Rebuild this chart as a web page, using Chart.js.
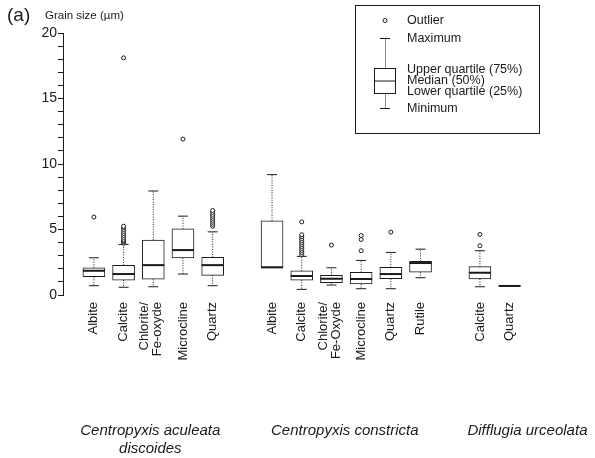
<!DOCTYPE html>
<html>
<head>
<meta charset="utf-8">
<script src="https://cdn.jsdelivr.net/npm/chart.js@4.4.1/dist/chart.umd.min.js"></script>
<style>
  html, body { margin: 0; padding: 0; background: #fff; }
  #wrap { width: 595px; height: 458px; }
</style>
</head>
<body>
<div id="wrap"><canvas id="grainChart" width="595" height="458"></canvas></div>
<script>
// slots along the x axis, '' = gap between two species
const minerals = ['Albite', 'Calcite', 'Chlorite/\nFe-oxyde', 'Microcline', 'Quartz', '',
  'Albite', 'Calcite', 'Chlorite/\nFe-Oxyde', 'Microcline', 'Quartz', 'Rutile', '',
  'Calcite', 'Quartz'];
const species = [['Centropyxis aculeata', 'discoides'], ['Centropyxis constricta'], ['Difflugia urceolata']];
const speciesAt = [1.9, 8.45, 14.6];   // label centre, in slot units

// box statistics per slot, grain size in µm
const mins    = [0.71, 0.59, 0.63, 1.60, 0.71, null, 2.11, 0.43, 0.76, 0.48, 0.48, 1.32, null, 0.63, 0.69];
const q1s     = [1.39, 1.14, 1.20, 2.84, 1.50, null, 2.11, 1.14, 0.94, 0.84, 1.24, 1.75, null, 1.22, 0.69];
const medians = [1.85, 1.60, 2.28, 3.43, 2.28, null, 2.11, 1.45, 1.24, 1.22, 1.60, 2.44, null, 1.70, 0.69];
const q3s     = [2.08, 2.26, 4.19, 5.05, 2.87, null, 5.66, 1.85, 1.50, 1.73, 2.11, 2.57, null, 2.16, 0.69];
const maxs    = [2.84, 3.86, 7.94, 6.02, 4.82, null, 9.19, 2.95, 2.08, 2.64, 3.25, 3.50, null, 3.38, 0.69];
const outliers = [
  [5.95],
  [3.95, 4.05, 4.15, 4.25, 4.4, 4.55, 4.7, 4.85, 5.0, 5.15, 5.25, 18.1],
  [],
  [11.9],
  [5.25, 5.4, 5.55, 5.7, 5.85, 6.0, 6.15, 6.3, 6.45],
  [],
  [],
  [3.1, 3.25, 3.4, 3.55, 3.7, 3.85, 4.0, 4.15, 4.3, 4.45, 4.6, 5.58],
  [3.81],
  [3.38, 4.24, 4.54],
  [4.8],
  [],
  [],
  [3.76, 4.62],
  []
];

const ink = '#1a1a1a';
const family = "'Liberation Sans', Arial, sans-serif";

const slots = minerals.map((m, i) => i).filter(i => minerals[i] !== '');
const boxData = slots.map(i => ({ x: i, y: [q1s[i], q3s[i]] }));
const medianData = slots.map(i => ({ x: i, y: medians[i] }));
const capData = slots.flatMap(i => [{ x: i, y: maxs[i] }, { x: i, y: mins[i] }]);
const whiskerData = slots.flatMap(i => [
  { x: i, y: q3s[i] }, { x: i, y: maxs[i] }, { x: i, y: null },
  { x: i, y: q1s[i] }, { x: i, y: mins[i] }, { x: i, y: null }
]);
const outlierData = slots.flatMap(i => outliers[i].map(v => ({ x: i, y: v })));

// texts that are not a plain axis: panel tag, axis title, mineral names, species, key
const extras = {
  id: 'extras',
  afterDraw(chart) {
    const ctx = chart.ctx;
    const xs = chart.scales.x;
    ctx.save();
    ctx.fillStyle = ink;
    ctx.strokeStyle = ink;
    ctx.textBaseline = 'alphabetic';
    ctx.textAlign = 'left';
    ctx.font = '19px ' + family;
    ctx.fillText('(a)', 7, 21);
    ctx.font = '11.5px ' + family;
    ctx.fillText('Grain size (µm)', 45, 18.5);

    // mineral names, vertical, ending just under the plot
    ctx.font = '13px ' + family;
    ctx.textAlign = 'right';
    ctx.textBaseline = 'middle';
    slots.forEach(i => {
      const lines = minerals[i].split('\n');
      const px = xs.getPixelForValue(i);
      const shift = lines.length > 1 ? -2 : 0;
      lines.forEach((t, j) => {
        ctx.save();
        ctx.translate(px + shift + (j - (lines.length - 1) / 2) * 13, xs.top + 7);
        ctx.rotate(-Math.PI / 2);
        ctx.fillText(t, 0, 0);
        ctx.restore();
      });
    });

    ctx.font = 'italic 15px ' + family;
    ctx.textAlign = 'center';
    ctx.textBaseline = 'alphabetic';
    species.forEach((lines, k) => {
      const cx = xs.getPixelForValue(speciesAt[k]);
      lines.forEach((t, j) => ctx.fillText(t, cx, 435 + j * 18));
    });

    // key box
    ctx.lineWidth = 1;
    ctx.strokeRect(355.5, 5.5, 184, 128);
    const kx = 385;
    ctx.beginPath();
    ctx.arc(kx, 20.5, 2, 0, Math.PI * 2);
    ctx.stroke();
    ctx.beginPath();
    ctx.moveTo(kx - 5, 38.5); ctx.lineTo(kx + 5, 38.5);
    ctx.moveTo(kx - 5, 108.5); ctx.lineTo(kx + 5, 108.5);
    ctx.stroke();
    ctx.setLineDash([1, 1]);
    ctx.beginPath();
    ctx.moveTo(kx + 0.5, 38.5); ctx.lineTo(kx + 0.5, 68.5);
    ctx.moveTo(kx + 0.5, 93.5); ctx.lineTo(kx + 0.5, 108.5);
    ctx.stroke();
    ctx.setLineDash([]);
    ctx.strokeRect(374.5, 68.5, 21, 25);
    ctx.beginPath();
    ctx.moveTo(374.5, 81); ctx.lineTo(395.5, 81);
    ctx.stroke();

    ctx.textAlign = 'left';
    ctx.textBaseline = 'middle';
    ctx.font = '12.5px ' + family;
    [['Outlier', 21], ['Maximum', 38.5], ['Upper quartile (75%)', 70],
     ['Median (50%)', 80.5], ['Lower quartile (25%)', 91.5], ['Minimum', 108.5]]
      .forEach(([t, y]) => ctx.fillText(t, 407, y));
    ctx.restore();
  }
};

new Chart(document.getElementById('grainChart'), {
  type: 'bar',
  data: {
    datasets: [
      { type: 'line', data: whiskerData, borderColor: ink, borderWidth: 1, borderDash: [1, 1.5],
        pointRadius: 0, spanGaps: false, order: 5 },
      { type: 'bar', data: boxData, backgroundColor: '#fff', borderColor: ink, borderWidth: 1,
        barThickness: 22, borderSkipped: false, order: 4 },
      { type: 'scatter', data: capData, pointStyle: 'line', pointRadius: 5,
        borderColor: ink, borderWidth: 1, order: 3 },
      { type: 'scatter', data: medianData, pointStyle: 'line', pointRadius: 11,
        borderColor: ink, borderWidth: 2, order: 2 },
      { type: 'scatter', data: outlierData, pointStyle: 'circle', pointRadius: 2,
        backgroundColor: '#fff', borderColor: ink, borderWidth: 1, order: 1 }
    ]
  },
  options: {
    responsive: false,
    animation: false,
    devicePixelRatio: 1,
    layout: { padding: { top: 33, right: 15, bottom: 0, left: 0 } },
    plugins: { legend: { display: false }, tooltip: { enabled: false } },
    scales: {
      x: {
        type: 'linear', min: -1.04, max: 16.37, offset: false,
        grid: { display: false }, border: { display: false },
        afterFit: s => { s.height = 163; },
        ticks: { display: false }
      },
      y: {
        min: 0, max: 20,
        afterFit: s => { s.width = 63; },
        border: { display: true, color: ink, width: 1 },
        grid: { drawOnChartArea: false, drawTicks: true, tickLength: 5, color: ink },
        ticks: {
          stepSize: 1, autoSkip: false, padding: 1, color: ink,
          font: { family: family, size: 14 },
          callback: v => v % 5 === 0 ? v : ''
        }
      }
    }
  },
  plugins: [extras]
});
</script>
</body>
</html>
